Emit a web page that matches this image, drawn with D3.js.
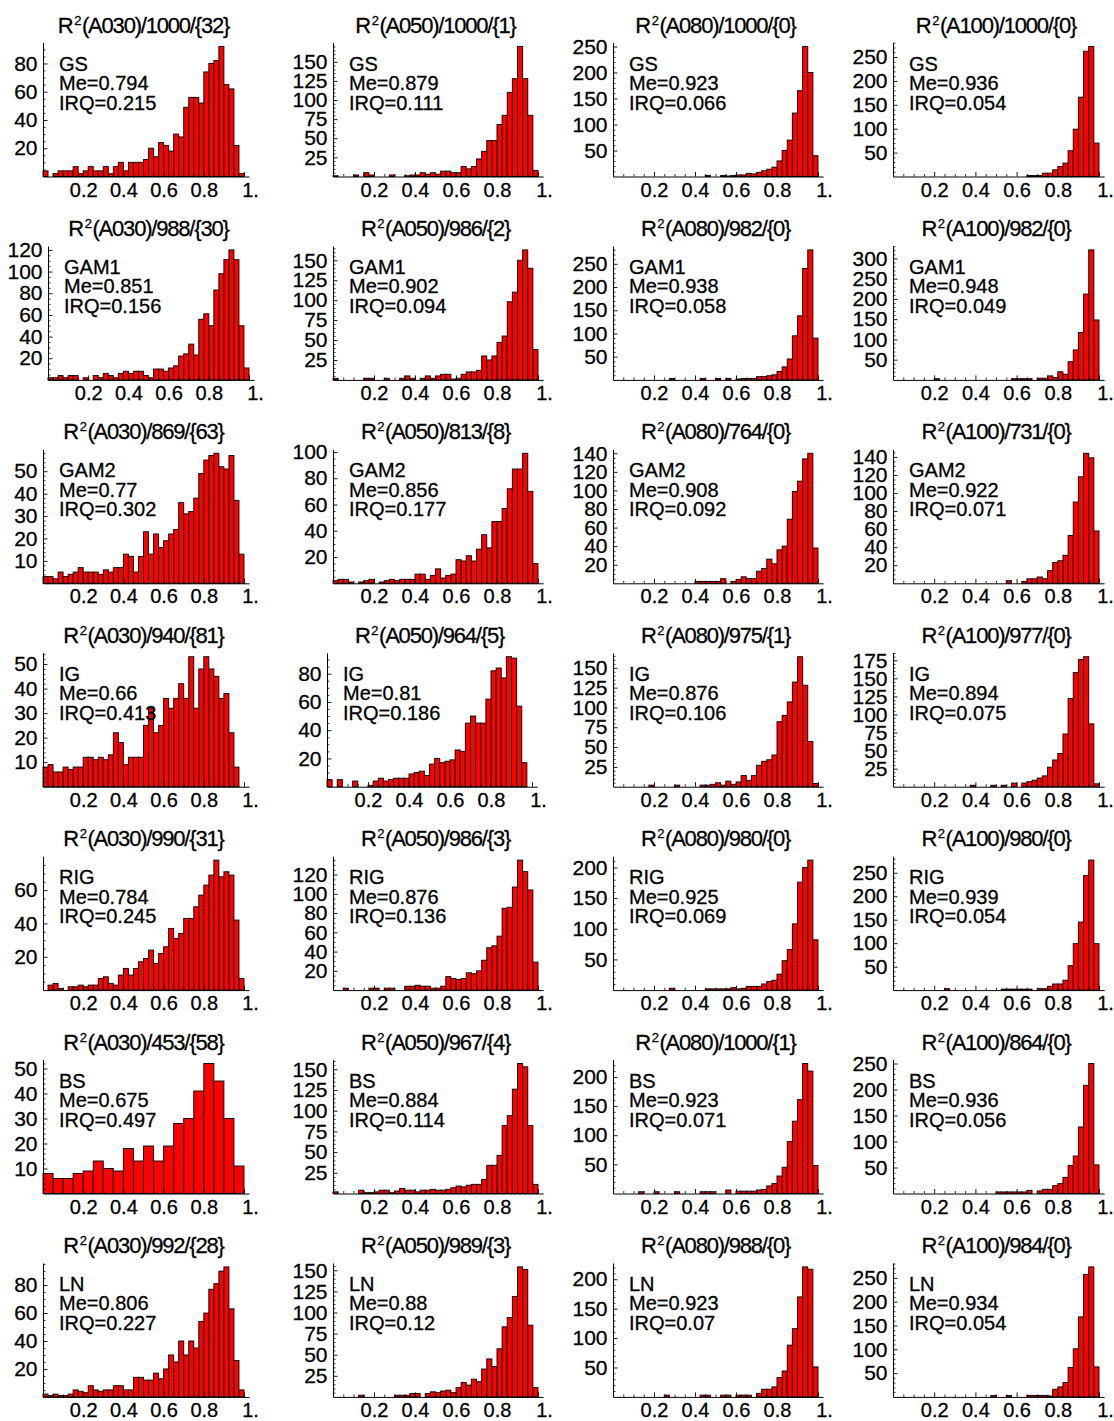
<!DOCTYPE html>
<html>
<head>
<meta charset="utf-8">
<script src="https://cdn.jsdelivr.net/npm/d3@7"></script>
<style>
  html, body { margin: 0; padding: 0; background: #fff; }
  svg { display: block; font-family: "Liberation Sans", Arial, Helvetica, sans-serif; }
  svg text { stroke: #000; stroke-width: 0.3px; }
</style>
</head>
<body>
<svg id="chart" width="1114" height="1421"></svg>
<script>
// Estimation methods (rows) and sample sets (columns)
const methods = ["GS", "GAM1", "GAM2", "IG", "RIG", "BS", "LN"];
const samples = ["A030", "A050", "A080", "A100"];

// Number of fits per panel and number of negative R² values left out of the histogram
const totals = [
  [1000, 1000, 1000, 1000],
  [988, 986, 982, 982],
  [869, 813, 764, 731],
  [940, 964, 975, 977],
  [990, 986, 980, 980],
  [453, 967, 1000, 864],
  [992, 989, 988, 984]
];
const negatives = [
  [32, 1, 0, 0],
  [30, 2, 0, 0],
  [63, 8, 0, 0],
  [81, 5, 1, 0],
  [31, 3, 0, 0],
  [58, 4, 1, 0],
  [28, 3, 0, 0]
];

// Median and inter-quartile range of R²
const medians = [
  [0.794, 0.879, 0.923, 0.936],
  [0.851, 0.902, 0.938, 0.948],
  [0.77, 0.856, 0.908, 0.922],
  [0.66, 0.81, 0.876, 0.894],
  [0.784, 0.876, 0.925, 0.939],
  [0.675, 0.884, 0.923, 0.936],
  [0.806, 0.88, 0.923, 0.934]
];
const iqrs = [
  [0.215, 0.111, 0.066, 0.054],
  [0.156, 0.094, 0.058, 0.049],
  [0.302, 0.177, 0.092, 0.071],
  [0.413, 0.186, 0.106, 0.075],
  [0.245, 0.136, 0.069, 0.054],
  [0.497, 0.114, 0.071, 0.056],
  [0.227, 0.12, 0.07, 0.054]
];

// Histogram counts of R² on [0, 1]; bin width = 1 / number of bins
const countsGS = [
  [4,0,2,4,4,4,7,2,4,7, 4,4,7,2,7,10,4,10,10,10, 12,20,14,24,22,18,30,28,49,56, 56,52,74,80,82,92,65,62,22,2],
  [1,0,0,0,2,0,5,2,0,0, 0,2,0,0,1,2,2,5,3,5, 3,7,7,5,5,13,10,13,23,33, 47,47,68,80,110,128,170,128,80,8],
  [0,0,0,0,0,0,0,0,0,0, 0,0,0,0,0,0,0,0,2,0, 0,2,1,2,3,3,6,5,8,11, 14,18,30,50,70,122,165,250,200,40],
  [0,0,0,0,0,0,0,0,0,0, 0,0,0,0,0,0,0,0,0,0, 0,0,0,0,0,0,2,2,2,7, 7,14,21,28,54,99,166,262,272,70]
];
const countsGAM1 = [
  [2,2,4,2,4,4,0,2,0,4, 2,6,4,2,6,8,6,8,8,4, 2,10,10,8,11,13,22,24,33,23, 56,61,50,83,98,111,120,111,50,11],
  [2,0,0,0,0,0,2,2,0,0, 2,0,0,2,5,2,0,2,5,2, 5,7,7,1,2,7,10,10,12,30, 25,30,47,55,98,110,150,163,140,38],
  [0,0,0,0,0,0,0,0,0,0, 0,3,0,0,0,0,0,3,0,0, 3,0,3,0,2,3,3,3,7,7, 9,11,18,28,45,95,138,240,280,90],
  [0,0,0,0,0,0,0,0,3,0, 0,0,0,0,0,0,0,0,0,0, 0,0,0,3,3,3,3,0,4,4, 10,6,20,14,45,74,117,212,321,148]
];
const countsGAM2 = [
  [3,3,2,5,3,4,5,7,5,5, 5,4,6,5,7,7,13,12,5,12, 23,13,22,16,19,22,24,36,31,32, 38,49,55,57,58,52,51,57,37,13],
  [2,3,3,1,0,1,2,3,0,1, 2,3,2,3,3,3,7,7,3,6, 11,4,6,7,18,17,21,17,26,37, 27,47,47,57,72,87,87,99,70,15],
  [0,0,0,0,0,0,0,0,0,0, 0,0,0,0,0,0,2,2,2,2, 2,5,0,2,4,7,5,5,13,16, 26,21,36,40,69,99,110,134,140,38],
  [0,0,0,0,0,0,0,0,0,0, 0,0,0,0,0,0,0,0,0,0, 0,0,3,0,0,2,5,5,7,5, 14,23,25,31,53,90,118,144,139,58]
];
const countsIG = [
  [8,9,6,6,8,7,8,8,12,12, 11,12,11,13,22,18,9,12,12,12, 25,32,22,25,36,32,36,42,36,53, 32,48,53,48,45,36,38,22,8,0],
  [5,0,5,0,0,4,0,0,1,4, 6,4,5,6,6,6,9,10,11,8, 16,20,17,18,19,26,25,45,50,45, 45,62,82,84,77,92,91,57,17,0],
  [0,0,0,0,0,0,0,2,0,0, 0,0,2,0,0,0,0,2,2,3, 5,2,7,3,6,14,8,14,27,32, 34,40,82,90,107,132,164,128,57,4],
  [0,0,0,0,0,0,0,0,0,0, 0,0,0,0,0,2,0,0,0,2, 0,2,0,5,0,5,7,9,12,15, 27,37,46,73,122,158,176,180,87,4]
];
const countsRIG = [
  [0,3,4,1,0,2,2,3,2,3, 3,7,8,4,3,9,13,9,13,17, 19,24,16,22,26,37,31,34,43,43, 50,57,63,69,78,68,71,69,42,7],
  [0,0,2,0,0,0,0,2,2,0, 2,2,0,0,4,4,5,4,4,2, 2,4,14,12,11,12,18,17,20,31, 44,46,56,85,86,107,135,123,104,29],
  [0,0,0,0,0,0,0,0,0,0, 0,3,0,0,0,0,0,0,2,2, 2,2,2,4,2,3,6,6,6,10, 14,16,26,48,66,108,176,200,212,82],
  [0,0,0,0,0,0,0,0,0,0, 3,0,0,0,0,0,0,0,0,0, 0,2,2,2,2,2,2,0,3,3, 8,13,13,21,52,99,145,244,277,99]
];
const countsBS = [
  [8,6,6,8,9,13,10,9,18,13, 19,13,19,28,30,41,52,45,30,11],
  [2,0,0,0,0,4,1,1,2,4, 4,1,3,6,4,4,2,4,4,5, 4,4,5,7,9,8,10,11,11,17, 34,34,46,82,94,126,157,153,82,11],
  [0,0,0,0,0,3,0,0,3,0, 0,0,3,0,0,0,0,3,3,3, 0,0,6,0,4,4,4,4,6,7, 13,17,30,45,89,124,161,223,210,48],
  [0,0,0,0,0,0,0,0,0,0, 0,0,0,0,0,0,0,0,0,0, 3,3,3,3,3,3,6,0,5,8, 8,15,19,31,54,72,128,208,250,55]
];
const countsLN = [
  [2,1,2,1,1,2,5,4,3,8, 5,4,5,5,8,8,5,5,14,14, 12,12,17,13,20,30,25,40,30,40, 35,54,60,77,81,90,93,63,26,5],
  [0,0,0,0,0,2,0,0,0,0, 0,0,2,2,2,4,4,0,4,6, 5,7,8,5,11,17,14,21,18,33, 45,36,57,83,94,119,154,151,85,11],
  [0,0,0,0,0,0,0,0,0,0, 3,0,0,0,0,0,0,3,3,0, 0,3,3,0,3,3,3,0,6,13, 13,17,33,44,88,116,170,221,217,51],
  [0,0,0,0,0,0,0,0,0,0, 0,0,0,0,0,0,0,0,0,3, 0,0,3,0,0,0,3,3,3,3, 2,16,21,30,62,101,168,257,273,63]
];
const countsByMethod = [countsGS, countsGAM1, countsGAM2, countsIG, countsRIG, countsBS, countsLN];

// Spacing of labelled count ticks in each panel
const yTickSteps = [
  [20, 25, 50, 50],
  [20, 25, 50, 50],
  [10, 20, 20, 20],
  [10, 20, 25, 25],
  [20, 20, 50, 50],
  [10, 25, 50, 50],
  [20, 25, 50, 50]
];
const yMinorSteps = { 10: 2, 20: 5, 25: 5, 50: 10 };

// R² axis ticks
const xTickValues = [0.2, 0.4, 0.6, 0.8, 1];
const xTickLabels = ["0.2", "0.4", "0.6", "0.8", "1."];
const xMinorValues = d3.range(1, 20).map(k => k * 0.05).filter(v => Math.abs(v * 5 - Math.round(v * 5)) > 1e-6);

// ---------- layout ----------
const svg = d3.select("#chart");
const rowBase0 = 176.5, rowPitch = 203.4;     // baseline of the first row, distance between rows
const colAxis3 = [48, 333, 613, 893];          // count axis position when labels are three digits wide
const colDigitShift = [5, 6, 6, 6];            // how much a panel moves left per missing label digit
const colWidth = [201, 205, 205, 206];         // pixel length of R² from 0 to 1
const barMaxPx = 130;                          // pixel height of the tallest bar
const yPad = 1.03, xPad = 1.025;               // axis overshoot beyond the data range
const ySize = 21, xSize = 20, noteSize = 20, titleSize = 22;

methods.forEach((method, r) => {
  samples.forEach((sample, c) => {
    const counts = countsByMethod[r][c];
    const nBins = counts.length;
    const maxC = d3.max(counts);
    const step = yTickSteps[r][c];
    const minor = yMinorSteps[step];
    const majorTicks = d3.range(step, maxC * 1.02 + 1e-9, step);
    const minorTicks = d3.range(minor, maxC * yPad, minor).filter(v => Math.abs(v / step - Math.round(v / step)) > 1e-6);
    const digits = String(d3.max(majorTicks)).length;

    const base = rowBase0 + r * rowPitch;
    const axisX = colAxis3[c] - (3 - digits) * colDigitShift[c];
    const x1 = axisX + colWidth[c];

    const x = d3.scaleLinear().domain([0, 1]).range([axisX, x1]);
    const y = d3.scaleLinear().domain([0, maxC]).range([base, base - barMaxPx]);
    const xAxisScale = d3.scaleLinear().domain([0, xPad]).range([axisX, x(xPad)]);
    const yAxisScale = d3.scaleLinear().domain([0, maxC * yPad]).range([base, y(maxC * yPad)]);

    const g = svg.append("g").attr("class", "panel");

    // bars
    const bins = counts.map((v, i) => ({ x0: i / nBins, x1: (i + 1) / nBins, v }));
    g.append("g")
      .selectAll("rect")
      .data(bins.filter(d => d.v > 0))
      .join("rect")
      .attr("x", d => x(d.x0))
      .attr("y", d => y(d.v))
      .attr("width", d => x(d.x1) - x(d.x0))
      .attr("height", d => y(0) - y(d.v))
      .attr("fill", "#ff0000")
      .attr("stroke", "#000")
      .attr("stroke-opacity", 0.9)
      .attr("stroke-width", 1);

    // count axis: minor ticks, then labelled ticks with the axis line
    g.append("g")
      .attr("transform", `translate(${axisX},0)`)
      .call(d3.axisLeft(yAxisScale).tickValues(minorTicks).tickSizeInner(-2.5).tickSizeOuter(0).tickFormat(""))
      .call(s => s.select(".domain").remove())
      .call(s => s.selectAll("line").attr("stroke-width", 0.8));
    g.append("g")
      .attr("transform", `translate(${axisX},0)`)
      .call(d3.axisLeft(yAxisScale).tickValues(majorTicks).tickSizeInner(-4.5).tickSizeOuter(0).tickPadding(5.5).tickFormat(d3.format("d")))
      .attr("font-size", ySize)
      .attr("font-family", null)
      .call(s => s.select(".domain").attr("stroke-width", 1))
      .call(s => s.selectAll("line").attr("stroke-width", 0.9))
      .call(s => s.selectAll("text").attr("fill", "#000"));

    // R² axis; the "1." label sits a little right of its tick
    g.append("g")
      .attr("transform", `translate(0,${base})`)
      .call(d3.axisBottom(xAxisScale).tickValues(xMinorValues).tickSizeInner(-2.5).tickSizeOuter(0).tickFormat(""))
      .call(s => s.select(".domain").remove())
      .call(s => s.selectAll("line").attr("stroke-width", 0.8));
    g.append("g")
      .attr("transform", `translate(0,${base})`)
      .call(d3.axisBottom(xAxisScale).tickValues(xTickValues).tickSizeInner(-4.5).tickSizeOuter(0).tickPadding(6)
        .tickFormat((d, i) => xTickLabels[i]))
      .attr("font-size", xSize)
      .attr("font-family", null)
      .call(s => s.select(".domain").attr("stroke-width", 1))
      .call(s => s.selectAll("line").attr("stroke-width", 0.9))
      .call(s => s.selectAll("text").attr("fill", "#000").attr("dx", d => d === 1 ? 6 : 0));

    // panel title: R² followed by sample, number of fits and number of negative values
    const title = g.append("text")
      .attr("x", (axisX + x1) / 2)
      .attr("y", base - 144)
      .attr("text-anchor", "middle")
      .attr("font-size", titleSize)
      .attr("fill", "#000");
    title.append("tspan").text("R");
    title.append("tspan").attr("font-size", 13).attr("dy", -8).attr("dx", 0.5).text("2");
    title.append("tspan").attr("dy", 8).attr("dx", 0.5).attr("letter-spacing", -1.2)
      .text(`(${sample})/${totals[r][c]}/{${negatives[r][c]}}`);

    // method name and summary statistics
    const notes = [method, `Me=${medians[r][c]}`, `IRQ=${iqrs[r][c]}`];
    g.append("g")
      .selectAll("text")
      .data(notes)
      .join("text")
      .attr("x", axisX + 16)
      .attr("y", (d, i) => base - 106 + i * 19.5)
      .attr("font-size", noteSize)
      .attr("fill", "#000")
      .text(d => d);
  });
});
</script>
</body>
</html>
